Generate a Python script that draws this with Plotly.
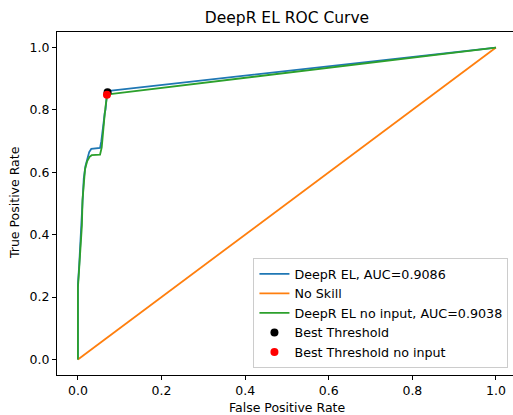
import plotly.graph_objects as go

# DeepR EL ROC curve
fpr_el = [0.0, 0.0, 0.003, 0.006, 0.009, 0.011, 0.014, 0.018, 0.022, 0.027, 0.032, 0.053,
          0.056, 0.058, 0.060, 0.062, 0.064, 0.066, 0.068, 0.070, 0.075, 0.080, 1.0]
tpr_el = [0.0, 0.24, 0.30, 0.38, 0.45, 0.52, 0.58, 0.62, 0.645, 0.665, 0.675, 0.678,
          0.70, 0.73, 0.76, 0.765, 0.79, 0.80, 0.83, 0.855, 0.860, 0.862, 1.0]

# DeepR EL no input ROC curve
fpr_ni = [0.0, 0.0, 0.002, 0.005, 0.008, 0.0096, 0.011, 0.0145, 0.017, 0.022, 0.028, 0.033,
          0.053, 0.057, 0.059, 0.063, 0.066, 0.069, 0.070, 0.077, 1.0]
tpr_ni = [0.0, 0.23, 0.27, 0.33, 0.40, 0.43, 0.51, 0.575, 0.61, 0.635, 0.65, 0.655,
          0.657, 0.68, 0.72, 0.77, 0.81, 0.835, 0.849, 0.851, 1.0]

# No skill line
fpr_ns = [0.0, 1.0]
tpr_ns = [0.0, 1.0]

# Best thresholds
best_el = ([0.071], [0.857])
best_ni = ([0.0695], [0.849])

auc_el = 0.9086
auc_ni = 0.9038

tick_vals = [0.0, 0.2, 0.4, 0.6, 0.8, 1.0]

FONT = "DejaVu Sans"
W, H = 513, 415
ML, MR, MT, MB = 57, 0, 32, 40
PW, PH = W - ML - MR, H - MT - MB

fig = go.Figure()
fig.add_trace(go.Scatter(x=fpr_el, y=tpr_el, mode="lines",
                         line=dict(color="#1f77b4", width=1.8),
                         name=f"DeepR EL, AUC={auc_el:.4f}"))
fig.add_trace(go.Scatter(x=fpr_ns, y=tpr_ns, mode="lines",
                         line=dict(color="#ff7f0e", width=1.8),
                         name="No Skill"))
fig.add_trace(go.Scatter(x=fpr_ni, y=tpr_ni, mode="lines",
                         line=dict(color="#2ca02c", width=1.8),
                         name=f"DeepR EL no input, AUC={auc_ni:.4f}"))
fig.add_trace(go.Scatter(x=best_el[0], y=best_el[1], mode="markers",
                         marker=dict(color="black", size=8),
                         name="Best Threshold"))
fig.add_trace(go.Scatter(x=best_ni[0], y=best_ni[1], mode="markers",
                         marker=dict(color="red", size=8),
                         name="Best Threshold no input"))

axis_common = dict(
    showgrid=False, zeroline=False, showline=True, linecolor="black", linewidth=1,
    ticks="outside", ticklen=4, tickcolor="black", tickwidth=1,
    tickvals=tick_vals, tickformat=".1f", automargin=False,
    tickfont=dict(family=FONT, size=12.5, color="black"),
)

fig.update_layout(
    width=W, height=H,
    margin=dict(l=ML, r=MR, t=MT, b=MB, autoexpand=False),
    paper_bgcolor="white", plot_bgcolor="white",
    font=dict(family=FONT, color="black"),
    title=dict(text="DeepR EL ROC Curve", x=287 / W, xanchor="center",
               y=1 - 18 / H, yanchor="middle",
               font=dict(family=FONT, size=15.5, color="black")),
    xaxis=dict(range=[-0.05, 1.0407], mirror=True, **axis_common),
    yaxis=dict(range=[-0.05, 1.05], mirror=False, **axis_common),
    legend=dict(x=0.99, y=0.02, xanchor="right", yanchor="bottom",
                bgcolor="white", bordercolor="#cccccc", borderwidth=1,
                font=dict(family=FONT, size=12.7, color="black"),
                tracegroupgap=0),
    showlegend=True,
    annotations=[
        dict(text="False Positive Rate", xref="paper", yref="paper",
             x=(287 - ML) / PW, y=(MT + PH - 408) / PH, xanchor="center", yanchor="middle",
             showarrow=False, font=dict(family=FONT, size=12.5, color="black")),
        dict(text="True Positive Rate", xref="paper", yref="paper",
             x=(15 - ML) / PW, y=(MT + PH - 203) / PH, xanchor="center", yanchor="middle",
             textangle=-90, showarrow=False,
             font=dict(family=FONT, size=12.5, color="black")),
    ],
)

fig.write_html("out.html",
               config={"displayModeBar": False},
               post_script="document.body.style.margin='0';document.body.style.padding='0';")
